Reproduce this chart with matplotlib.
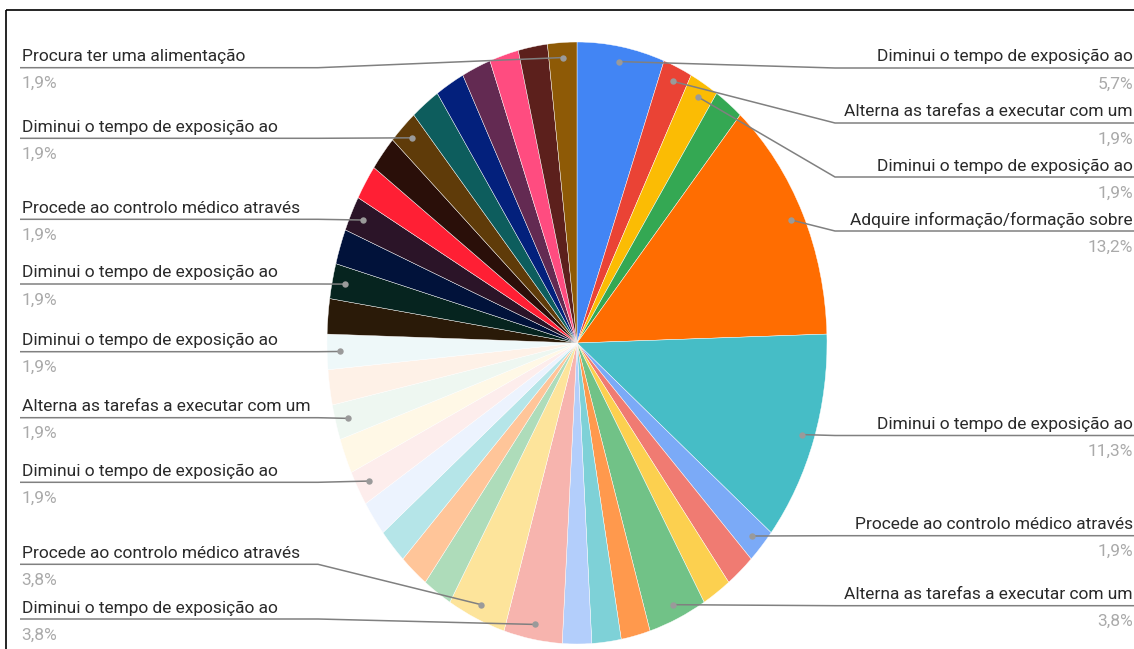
import numpy as np
import matplotlib
matplotlib.use("Agg")
import matplotlib.pyplot as plt

# Responses per category, clockwise from 12 o'clock
values = [3, 1, 1, 1, 7, 6, 1, 1, 1, 2, 1, 1, 1, 2, 2, 1, 1, 1, 1, 1, 1, 1, 1, 1,
          1, 1, 1, 1, 1, 1, 1, 1, 1, 1, 1, 1, 1]

categories = [
    "Diminui o tempo de exposição ao",
    "Alterna as tarefas a executar com um",
    "Diminui o tempo de exposição ao",
    "",
    "Adquire informação/formação sobre",
    "Diminui o tempo de exposição ao",
    "Procede ao controlo médico através",
    "", "",
    "Alterna as tarefas a executar com um",
    "", "", "",
    "Diminui o tempo de exposição ao",
    "Procede ao controlo médico através",
    "", "", "", "",
    "Diminui o tempo de exposição ao",
    "",
    "Alterna as tarefas a executar com um",
    "",
    "Diminui o tempo de exposição ao",
    "",
    "Diminui o tempo de exposição ao",
    "",
    "Procede ao controlo médico através",
    "", "",
    "Diminui o tempo de exposição ao",
    "", "", "", "", "",
    "Procura ter uma alimentação",
]

colors = [
    "#4285F4", "#EA4335", "#FBBC04", "#34A853", "#FF6D01", "#46BDC6",
    "#7BAAF7", "#F07B72", "#FCD04F", "#71C287", "#FF994D", "#7ED1D7",
    "#B3CEFB", "#F7B4AE", "#FDE49B", "#AEDCBA", "#FFC599", "#B5E5E8",
    "#ECF3FE", "#FDEDEC", "#FFF8E6", "#EEF7F1", "#FEF1E7", "#EEF8F9",
    "#2A1A08", "#06241F", "#01123A", "#2B1428", "#FF1F34", "#2A0F09",
    "#5F3B09", "#0D5D5D", "#03207C", "#632A52", "#FF4C80", "#5C201C",
    "#8E5A06",
]

W, H = 1134, 649
fig = plt.figure(figsize=(W / 100, H / 100), dpi=100)
fig.patch.set_facecolor("white")

# Pie drawn on an axes whose box sets the (slightly stretched) ellipse
cx, cy, rx, ry = 577, 343, 250, 301
ax = fig.add_axes([(cx - rx) / W, (H - cy - ry) / H, 2 * rx / W, 2 * ry / H])
wedges, _ = ax.pie(values, colors=colors, startangle=90, counterclock=False,
                   radius=1.0, wedgeprops=dict(edgecolor="white", linewidth=0.3))
ax.set_aspect("auto")
ax.set_xlim(-1, 1)
ax.set_ylim(-1, 1)
ax.axis("off")

# Overlay in pixel coordinates for labels and leader lines
ov = fig.add_axes([0, 0, 1, 1], zorder=5)
ov.set_xlim(0, W)
ov.set_ylim(H, 0)
ov.axis("off")
ov.patch.set_alpha(0)

# Frame lines along the top and left edges
ov.plot([6, W], [9.5, 9.5], color="black", lw=1.2, solid_capstyle="butt")
ov.plot([6, 6], [9.5, H], color="black", lw=1.2, solid_capstyle="butt")

total = sum(values)


def pct_text(v):
    return f"{100 * v / total:.1f}%".replace(".", ",")


# Which slices get a callout: slice index -> (side, underline y)
callouts = {
    0: ("right", 68), 1: ("right", 123), 2: ("right", 177), 4: ("right", 231),
    5: ("right", 435.5), 6: ("right", 535.7), 9: ("right", 605.7),
    36: ("left", 67.7), 30: ("left", 138.3), 27: ("left", 219.3),
    25: ("left", 284), 23: ("left", 351.7), 21: ("left", 417.7),
    19: ("left", 482.3), 14: ("left", 564.3), 13: ("left", 619),
}

line_col = "#808080"
txt_col = "#2a2a2a"
pct_col = "#aaaaaa"
fs = 12.5
font = "Roboto"

inv = ov.transData.inverted()
for idx, (side, ly) in callouts.items():
    w = wedges[idx]
    mid = np.deg2rad((w.theta1 + w.theta2) / 2)
    px, py = inv.transform(ax.transData.transform((0.95 * np.cos(mid), 0.95 * np.sin(mid))))
    if side == "right":
        xs = [px, 835, W]
        ys = [py, ly, ly]
        tx, ha = 1133, "right"
    else:
        xs = [px, 318, 20]
        ys = [py, ly, ly]
        tx, ha = 21.5, "left"
    ov.plot(xs, ys, color=line_col, lw=1.1, solid_capstyle="butt", zorder=6)
    ov.plot([px], [py], marker="o", ms=4.6, color="#9a9a9a", mec="none", zorder=7)
    ov.text(tx, ly - 6.5, categories[idx], ha=ha, va="baseline", fontsize=fs,
            color=txt_col, family=font)
    ov.text(tx, ly + 20.5, pct_text(values[idx]), ha=ha, va="baseline", fontsize=fs,
            color=pct_col, family=font)

fig.savefig("out.png", dpi=100, facecolor="white")
